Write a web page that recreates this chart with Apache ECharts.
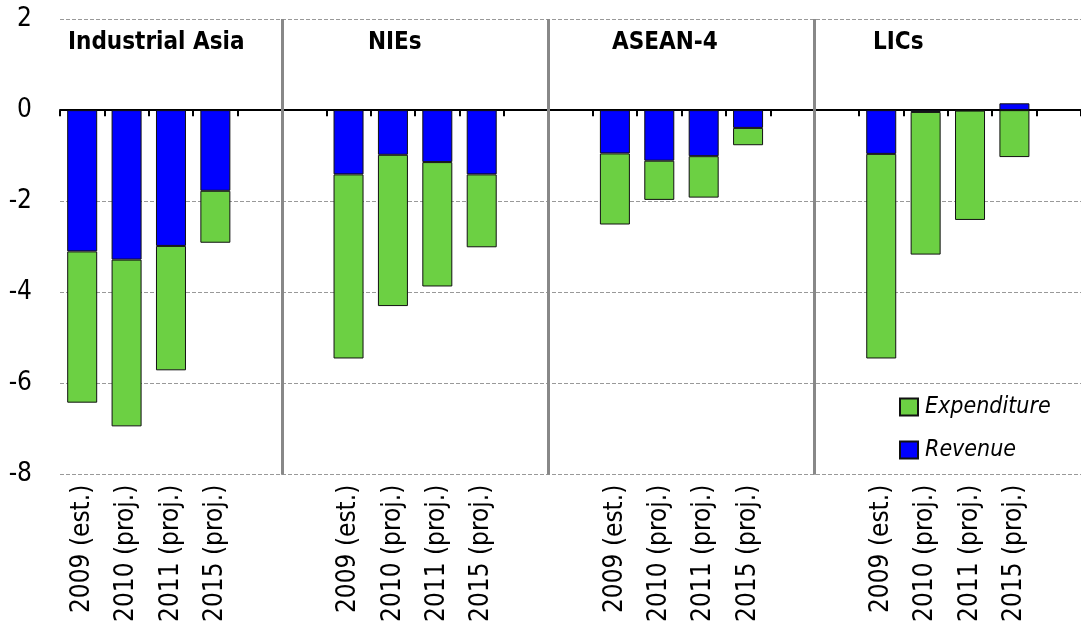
<!DOCTYPE html>
<html>
<head>
<meta charset="utf-8">
<script src="https://cdn.jsdelivr.net/npm/echarts@6/dist/echarts.min.js"></script>
<style>
html,body{margin:0;padding:0;background:#fff;}
#main{width:1081px;height:625px;}
</style>
</head>
<body>
<div id="main"></div>
<script>
// ---- data ----
const groupNames = ['Industrial Asia', 'NIEs', 'ASEAN-4', 'LICs'];
const yearLabels = ['2009 (est.)', '2010 (proj.)', '2011 (proj.)', '2015 (proj.)'];
const yTicks = [2, 0, -2, -4, -6, -8];

const revenueIndustrialAsia = [-3.10, -3.28, -2.98, -1.77];
const expenditureIndustrialAsia = [-3.32, -3.66, -2.73, -1.14];
const revenueNIEs = [-1.41, -0.98, -1.14, -1.41];
const expenditureNIEs = [-4.04, -3.32, -2.73, -1.60];
const revenueASEAN4 = [-0.95, -1.11, -1.01, -0.39];
const expenditureASEAN4 = [-1.56, -0.86, -0.91, -0.38];
const revenueLICs = [-0.96, -0.04, -0.01, 0.15];
const expenditureLICs = [-4.49, -3.13, -2.40, -1.03];

// ---- build slots: 4 bars per group, 2 empty slots between groups, one at the end ----
const revenueGroups = [revenueIndustrialAsia, revenueNIEs, revenueASEAN4, revenueLICs];
const expenditureGroups = [expenditureIndustrialAsia, expenditureNIEs, expenditureASEAN4, expenditureLICs];
const categories = [], revenue = [], expenditure = [];
groupNames.forEach((g, gi) => {
  yearLabels.forEach((y, yi) => {
    categories.push(gi + '|' + y);
    revenue.push(revenueGroups[gi][yi]);
    expenditure.push(expenditureGroups[gi][yi]);
  });
  const gaps = gi < groupNames.length - 1 ? 2 : 1;
  for (let k = 0; k < gaps; k++) {
    categories.push(gi + '|gap' + k);
    revenue.push('-');
    expenditure.push('-');
  }
});
const nSlots = categories.length; // 23
const separators = [6, 12, 18].map(v => v - 1); // boundaries between the empty slots

const FONT = "'Liberation Sans Narrow', 'DejaVu Sans Condensed', 'Roboto Condensed', sans-serif";
const GREEN = '#6cd043';
const BLUE = '#0000ff';

const chart = echarts.init(document.getElementById('main'));
const titleLefts = [68, 368, 612, 873];
chart.setOption({
  animation: false,
  backgroundColor: '#fff',
  title: groupNames.map((g, i) => ({
    text: g,
    left: titleLefts[i],
    top: 31,
    padding: 0,
    textStyle: { fontFamily: FONT, fontSize: 24, fontWeight: 'bold', color: '#000' }
  })),
  legend: {
    orient: 'vertical',
    left: 899,
    top: 394,
    padding: 0,
    itemWidth: 18,
    itemHeight: 17,
    itemGap: 17,
    icon: 'rect',
    data: ['Expenditure', 'Revenue'],
    textStyle: { fontFamily: FONT, fontSize: 23, fontStyle: 'italic', color: '#000', lineHeight: 26, padding: [0, 0, 0, 2] }
  },
  grid: { left: 60, right: 0, top: 19, bottom: 149, containLabel: false },
  xAxis: [
    {
      type: 'category', data: categories, position: 'bottom',
      axisLine: { show: false, onZero: false }, axisTick: { show: false },
      axisLabel: {
        interval: 0, rotate: 90, margin: 10,
        fontFamily: FONT, fontSize: 26, color: '#000',
        formatter: v => { const s = v.split('|')[1]; return s.startsWith('gap') ? '' : s; }
      },
      splitLine: { show: false }
    },
    {
      type: 'category', data: categories, position: 'bottom',
      axisLine: { show: true, onZero: true, lineStyle: { color: '#000', width: 2 } },
      axisTick: { show: true, interval: 0, length: 6, lineStyle: { color: '#000', width: 2 } },
      axisLabel: { show: false }, splitLine: { show: false }
    },
    {
      type: 'value', min: 0, max: nSlots, show: false,
      axisLine: { onZero: false }
    }
  ],
  yAxis: {
    type: 'value', min: yTicks[yTicks.length - 1], max: yTicks[0], interval: 2,
    axisLine: { show: false }, axisTick: { show: false },
    axisLabel: { fontFamily: FONT, fontSize: 26, color: '#000', margin: 28 },
    splitLine: { show: true, lineStyle: { color: '#999', type: [4, 2], width: 1 } }
  },
  series: [
    {
      name: 'Revenue', type: 'bar', stack: 'bal', xAxisIndex: 0, barWidth: 30,
      data: revenue,
      itemStyle: { color: BLUE, borderColor: '#111', borderWidth: 1 }
    },
    {
      name: 'Expenditure', type: 'bar', stack: 'bal', xAxisIndex: 0, barWidth: 30,
      data: expenditure,
      itemStyle: { color: GREEN, borderColor: '#111', borderWidth: 1 }
    },
    {
      name: 'separators', type: 'line', xAxisIndex: 2, yAxisIndex: 0, data: [],
      silent: true, legendHoverLink: false,
      markLine: {
        silent: true, symbol: 'none', label: { show: false },
        lineStyle: { color: '#888', width: 3, type: 'solid' },
        data: separators.map(v => ({ xAxis: v }))
      }
    }
  ]
});
</script>
</body>
</html>
